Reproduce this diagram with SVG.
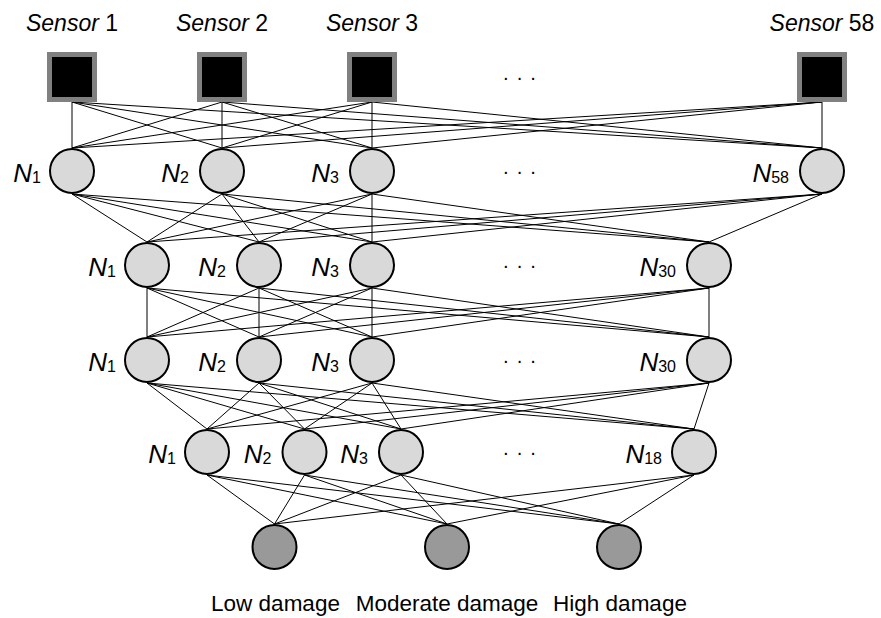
<svg xmlns="http://www.w3.org/2000/svg" width="881" height="618" viewBox="0 0 881 618">
  <style>
    .edge { stroke: #000; stroke-width: 1; fill: none; }
    .sensor { fill: #000; stroke: #808080; stroke-width: 5; }
    .hidden { fill: #d9d9d9; stroke: #000; stroke-width: 2; }
    .out { fill: #999; stroke: #000; stroke-width: 2; }
    text { font-family: "Liberation Sans", "DejaVu Sans", sans-serif; fill: #000; }
    .slabel { font-size: 23px; text-anchor: middle; }
    .nlabel { font-size: 26px; text-anchor: end; }
    .it { font-style: italic; }
    .sub { font-size: 16px; font-style: normal; }
    .dots { font-size: 20px; text-anchor: middle; letter-spacing: 7px; }
    .olabel { font-size: 22.5px; text-anchor: middle; }
  </style>
  <rect width="881" height="618" fill="#fff"/>

  <!-- fully connected links between consecutive layers -->
  <g id="connectors" class="edge">
    <!-- sensors to first hidden layer -->
    <path d="M72 102L72 148M72 102L222 148M72 102L372 148M72 102L822 148
             M222 102L72 148M222 102L222 148M222 102L372 148M222 102L822 148
             M372 102L72 148M372 102L222 148M372 102L372 148M372 102L822 148
             M822 102L72 148M822 102L222 148M822 102L372 148M822 102L822 148"/>
    <!-- hidden layer 1 to hidden layer 2 -->
    <path d="M72 194L147 242M72 194L259 242M72 194L372 242M72 194L709 242
             M222 194L147 242M222 194L259 242M222 194L372 242M222 194L709 242
             M372 194L147 242M372 194L259 242M372 194L372 242M372 194L709 242
             M822 194L147 242M822 194L259 242M822 194L372 242M822 194L709 242"/>
    <!-- hidden layer 2 to hidden layer 3 -->
    <path d="M147 288L147 337M147 288L259 337M147 288L372 337M147 288L709 337
             M259 288L147 337M259 288L259 337M259 288L372 337M259 288L709 337
             M372 288L147 337M372 288L259 337M372 288L372 337M372 288L709 337
             M709 288L147 337M709 288L259 337M709 288L372 337M709 288L709 337"/>
    <!-- hidden layer 3 to hidden layer 4 -->
    <path d="M147 383L207 429M147 383L304.5 429M147 383L401 429M147 383L694 429
             M259 383L207 429M259 383L304.5 429M259 383L401 429M259 383L694 429
             M372 383L207 429M372 383L304.5 429M372 383L401 429M372 383L694 429
             M709 383L207 429M709 383L304.5 429M709 383L401 429M709 383L694 429"/>
    <!-- hidden layer 4 to output classes -->
    <path d="M207 475L274.5 524M207 475L447 524M207 475L619 524
             M304.5 475L274.5 524M304.5 475L447 524M304.5 475L619 524
             M401 475L274.5 524M401 475L447 524M401 475L619 524
             M694 475L274.5 524M694 475L447 524M694 475L619 524"/>
  </g>

  <!-- input sensors -->
  <g id="sensor1">
    <text class="slabel" x="72" y="31"><tspan class="it">Sensor</tspan> 1</text>
    <rect class="sensor" x="49.5" y="54.5" width="45" height="45"/>
  </g>
  <g id="sensor2">
    <text class="slabel" x="222" y="31"><tspan class="it">Sensor</tspan> 2</text>
    <rect class="sensor" x="199.5" y="54.5" width="45" height="45"/>
  </g>
  <g id="sensor3">
    <text class="slabel" x="372" y="31"><tspan class="it">Sensor</tspan> 3</text>
    <rect class="sensor" x="349.5" y="54.5" width="45" height="45"/>
  </g>
  <g id="sensor58">
    <text class="slabel" x="822" y="31"><tspan class="it">Sensor</tspan> 58</text>
    <rect class="sensor" x="799.5" y="54.5" width="45" height="45"/>
  </g>
  <text class="dots" x="523" y="84">···</text>

  <!-- hidden layer 1 -->
  <g id="h1-n1">
    <text class="nlabel" x="41" y="182"><tspan class="it">N</tspan><tspan class="sub" dy="1">1</tspan></text>
    <circle class="hidden" cx="72" cy="171" r="22"/>
  </g>
  <g id="h1-n2">
    <text class="nlabel" x="189" y="182"><tspan class="it">N</tspan><tspan class="sub" dy="1">2</tspan></text>
    <circle class="hidden" cx="222" cy="171" r="22"/>
  </g>
  <g id="h1-n3">
    <text class="nlabel" x="339" y="182"><tspan class="it">N</tspan><tspan class="sub" dy="1">3</tspan></text>
    <circle class="hidden" cx="372" cy="171" r="22"/>
  </g>
  <g id="h1-n58">
    <text class="nlabel" x="789" y="182"><tspan class="it">N</tspan><tspan class="sub" dy="1">58</tspan></text>
    <circle class="hidden" cx="822" cy="171" r="22"/>
  </g>
  <text class="dots" x="523" y="178">···</text>

  <!-- hidden layer 2 -->
  <g id="h2-n1">
    <text class="nlabel" x="116" y="276"><tspan class="it">N</tspan><tspan class="sub" dy="1">1</tspan></text>
    <circle class="hidden" cx="147" cy="265" r="22"/>
  </g>
  <g id="h2-n2">
    <text class="nlabel" x="226" y="276"><tspan class="it">N</tspan><tspan class="sub" dy="1">2</tspan></text>
    <circle class="hidden" cx="259" cy="265" r="22"/>
  </g>
  <g id="h2-n3">
    <text class="nlabel" x="339" y="276"><tspan class="it">N</tspan><tspan class="sub" dy="1">3</tspan></text>
    <circle class="hidden" cx="372" cy="265" r="22"/>
  </g>
  <g id="h2-n30">
    <text class="nlabel" x="676" y="276"><tspan class="it">N</tspan><tspan class="sub" dy="1">30</tspan></text>
    <circle class="hidden" cx="709" cy="265" r="22"/>
  </g>
  <text class="dots" x="523" y="272">···</text>

  <!-- hidden layer 3 -->
  <g id="h3-n1">
    <text class="nlabel" x="116" y="371"><tspan class="it">N</tspan><tspan class="sub" dy="1">1</tspan></text>
    <circle class="hidden" cx="147" cy="360" r="22"/>
  </g>
  <g id="h3-n2">
    <text class="nlabel" x="226" y="371"><tspan class="it">N</tspan><tspan class="sub" dy="1">2</tspan></text>
    <circle class="hidden" cx="259" cy="360" r="22"/>
  </g>
  <g id="h3-n3">
    <text class="nlabel" x="339" y="371"><tspan class="it">N</tspan><tspan class="sub" dy="1">3</tspan></text>
    <circle class="hidden" cx="372" cy="360" r="22"/>
  </g>
  <g id="h3-n30">
    <text class="nlabel" x="676" y="371"><tspan class="it">N</tspan><tspan class="sub" dy="1">30</tspan></text>
    <circle class="hidden" cx="709" cy="360" r="22"/>
  </g>
  <text class="dots" x="523" y="367">···</text>

  <!-- hidden layer 4 -->
  <g id="h4-n1">
    <text class="nlabel" x="176" y="463"><tspan class="it">N</tspan><tspan class="sub" dy="1">1</tspan></text>
    <circle class="hidden" cx="207" cy="452" r="22"/>
  </g>
  <g id="h4-n2">
    <text class="nlabel" x="271.5" y="463"><tspan class="it">N</tspan><tspan class="sub" dy="1">2</tspan></text>
    <circle class="hidden" cx="304.5" cy="452" r="22"/>
  </g>
  <g id="h4-n3">
    <text class="nlabel" x="368" y="463"><tspan class="it">N</tspan><tspan class="sub" dy="1">3</tspan></text>
    <circle class="hidden" cx="401" cy="452" r="22"/>
  </g>
  <g id="h4-n18">
    <text class="nlabel" x="662" y="463"><tspan class="it">N</tspan><tspan class="sub" dy="1">18</tspan></text>
    <circle class="hidden" cx="694" cy="452" r="22"/>
  </g>
  <text class="dots" x="523" y="459">···</text>

  <!-- output classes -->
  <g id="out-low">
    <circle class="out" cx="274.5" cy="547" r="22"/>
    <text class="olabel" x="275.5" y="611">Low damage</text>
  </g>
  <g id="out-moderate">
    <circle class="out" cx="447" cy="547" r="22"/>
    <text class="olabel" x="447" y="611">Moderate damage</text>
  </g>
  <g id="out-high">
    <circle class="out" cx="619" cy="547" r="22"/>
    <text class="olabel" x="620" y="611">High damage</text>
  </g>
</svg>
